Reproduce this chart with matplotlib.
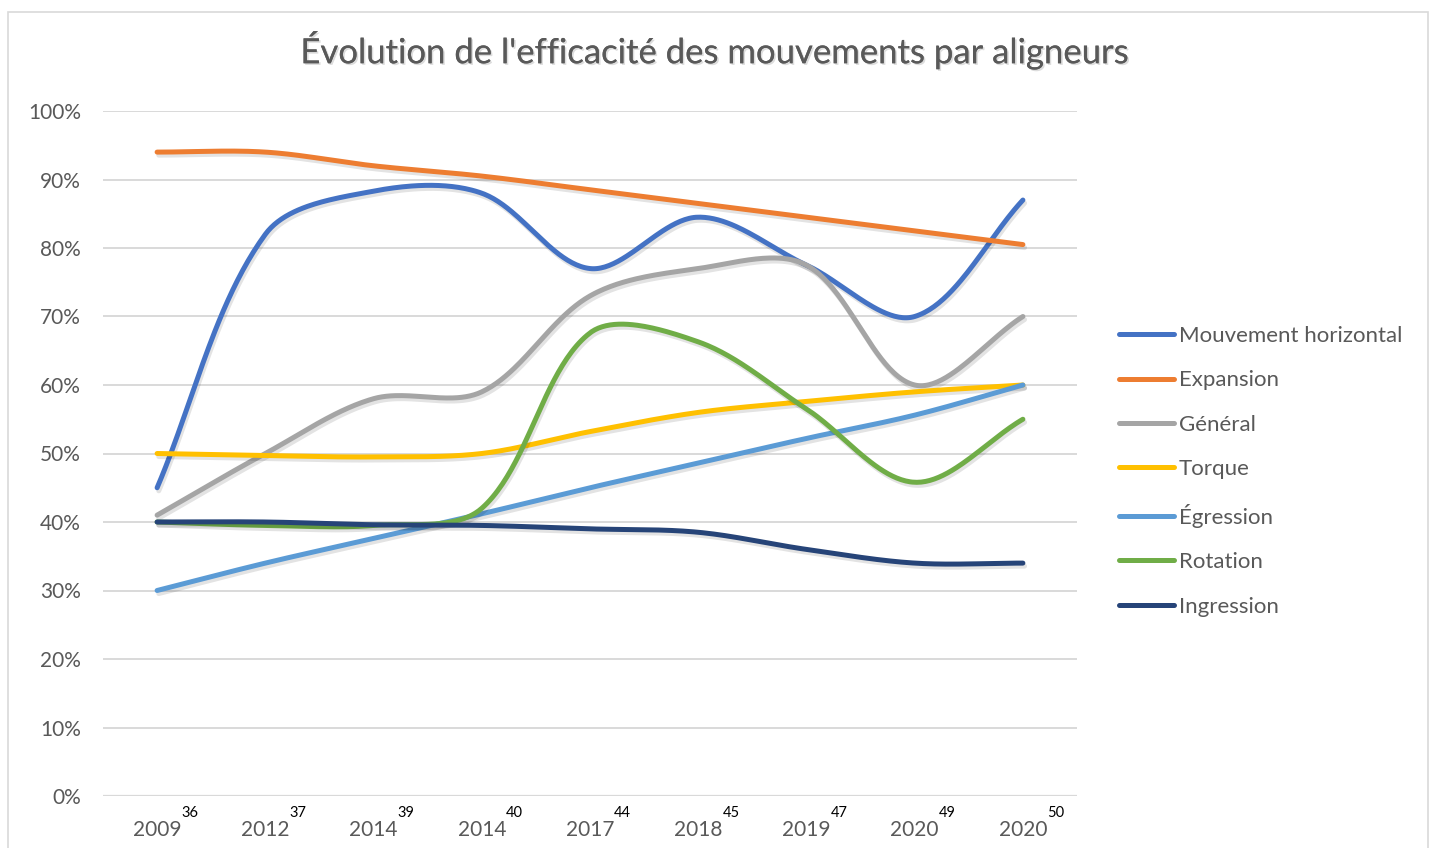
# excel-style smoothed line chart: efficacite des mouvements par aligneurs
import numpy as np
import matplotlib
matplotlib.use("Agg")
import matplotlib.pyplot as plt
import matplotlib.patheffects as pe
from matplotlib.patches import Rectangle

plt.rcParams['font.family'] = ['Lato', 'DejaVu Sans']

# ── data ──────────────────────────────────────────────────────────────────────
years = ["2009", "2012", "2014", "2014", "2017", "2018", "2019", "2020", "2020"]
refs  = ["36", "37", "39", "40", "44", "45", "47", "49", "50"]

mouvement_horizontal = [45, 82, 88.3, 88, 77, 84.5, 77.5, 70, 87]
expansion            = [94, 94, 92, 90.5, 88.5, 86.5, 84.5, 82.5, 80.5]
general              = [41, 50, 58, 59, 73, 77, 77.5, 60, 70]
torque               = [50, 49.7, 49.5, 50, 53.2, 56, 57.6, 59, 60]
egression            = [30, 34, 37.6, 41.2, 45, 48.6, 52.2, 55.6, 60]
rotation             = [40, 39.5, 39.5, 42, 67.6, 66.3, 56.5, 45.8, 55]
ingression           = [40, 40, 39.6, 39.5, 39, 38.5, 36, 34, 34]

series = [
    ("Mouvement horizontal", mouvement_horizontal, "#4472C4"),
    ("Expansion",            expansion,            "#ED7D31"),
    ("Général",              general,              "#A5A5A5"),
    ("Torque",               torque,               "#FFC000"),
    ("Égression",            egression,            "#5B9BD5"),
    ("Rotation",             rotation,             "#70AD47"),
    ("Ingression",           ingression,           "#264478"),
]

C_TEXT = '#595959'
C_GRID = '#d9d9d9'

# screen scale (px per category, px per percent), smoothing is done in screen space
SX, SY = 108.25, 6.85


def smooth(y, n=50, f=1 / 3):
    # bezier through the points with chord-weighted tangents (close to excel smoothing)
    y = np.asarray(y, dtype=float)
    x = np.arange(len(y), dtype=float)
    P = np.column_stack([x * SX, y * SY])
    P = np.vstack([P[0], P, P[-1]])
    xs, ys = [], []
    for i in range(len(y) - 1):
        p0, p1, p2, p3 = P[i], P[i + 1], P[i + 2], P[i + 3]
        d01 = np.linalg.norm(p1 - p0)
        d12 = np.linalg.norm(p2 - p1)
        d23 = np.linalg.norm(p3 - p2)
        c1 = p1 + (p2 - p0) * f * d12 / (d01 + d12)
        c2 = p2 - (p3 - p1) * f * d12 / (d12 + d23)
        t = np.linspace(0, 1, n)[:, None]
        b = ((1 - t) ** 3 * p1 + 3 * (1 - t) ** 2 * t * c1
             + 3 * (1 - t) * t ** 2 * c2 + t ** 3 * p2)
        xs.append(b[:, 0] / SX)
        ys.append(b[:, 1] / SY)
    return np.concatenate(xs), np.concatenate(ys)


# ── figure ────────────────────────────────────────────────────────────────────
fig = plt.figure(figsize=(14.31, 8.48), dpi=100, facecolor='white')
fig.patches.append(Rectangle((8 / 1431, -0.05), 1420 / 1431, 1.05 - 12 / 848,
                             transform=fig.transFigure, fill=False,
                             edgecolor='#d9d9d9', linewidth=1.2))

ax = fig.add_axes([103 / 1431, 1 - 796 / 848, (1077 - 103) / 1431, (796 - 111) / 848])
ax.set_facecolor('white')

shadow = [pe.SimpleLineShadow(offset=(1.2, -2.2), shadow_color='black', alpha=0.11),
          pe.Normal()]

for name, vals, col in series:
    xs, ys = smooth(vals)
    ax.plot(xs, ys, color=col, linewidth=3.6, solid_capstyle='round',
            label=name, path_effects=shadow, zorder=3)

ax.set_xlim(-0.5, len(years) - 0.5)
ax.set_ylim(0, 100)
ax.set_yticks(np.arange(0, 101, 10))
ax.set_yticklabels([f"{v}%" for v in range(0, 101, 10)])
ax.yaxis.grid(True, color=C_GRID, linewidth=1.4)
ax.set_axisbelow(True)
for s in ax.spines.values():
    s.set_visible(False)
ax.axhline(0, color=C_GRID, linewidth=1.6, zorder=1)
ax.tick_params(axis='y', length=0, pad=16, labelsize=15, labelcolor=C_TEXT)

ax.set_xticks(range(len(years)))
ax.set_xticklabels(years)
ax.tick_params(axis='x', length=0, pad=17, labelsize=15, labelcolor=C_TEXT)

# superscript reference numbers next to each year
for i, r in enumerate(refs):
    ax.annotate(r, xy=(i, 0), xycoords=('data', 'axes fraction'),
                xytext=(17.5, -12), textcoords='offset points',
                ha='left', va='center', fontsize=10.5, color='black')

fig.text(0.5, 1 - 50 / 848, "Évolution de l'efficacité des mouvements par aligneurs",
         ha='center', va='center', fontsize=25, color=C_TEXT,
         path_effects=[pe.withSimplePatchShadow(offset=(1.2, -1.2), alpha=0.15),
                       pe.Normal()])

leg = fig.legend(loc='upper left', bbox_to_anchor=(1110 / 1431, 1 - 317 / 848),
                 frameon=False, fontsize=16, handlelength=2.5, handletextpad=0.2,
                 labelspacing=1.1, labelcolor=C_TEXT, borderaxespad=0)
for h in leg.get_lines():
    h.set_linewidth(3.6)
    h.set_solid_capstyle('round')
    h.set_path_effects([])

plt.savefig("out.png", dpi=100)
plt.close()
